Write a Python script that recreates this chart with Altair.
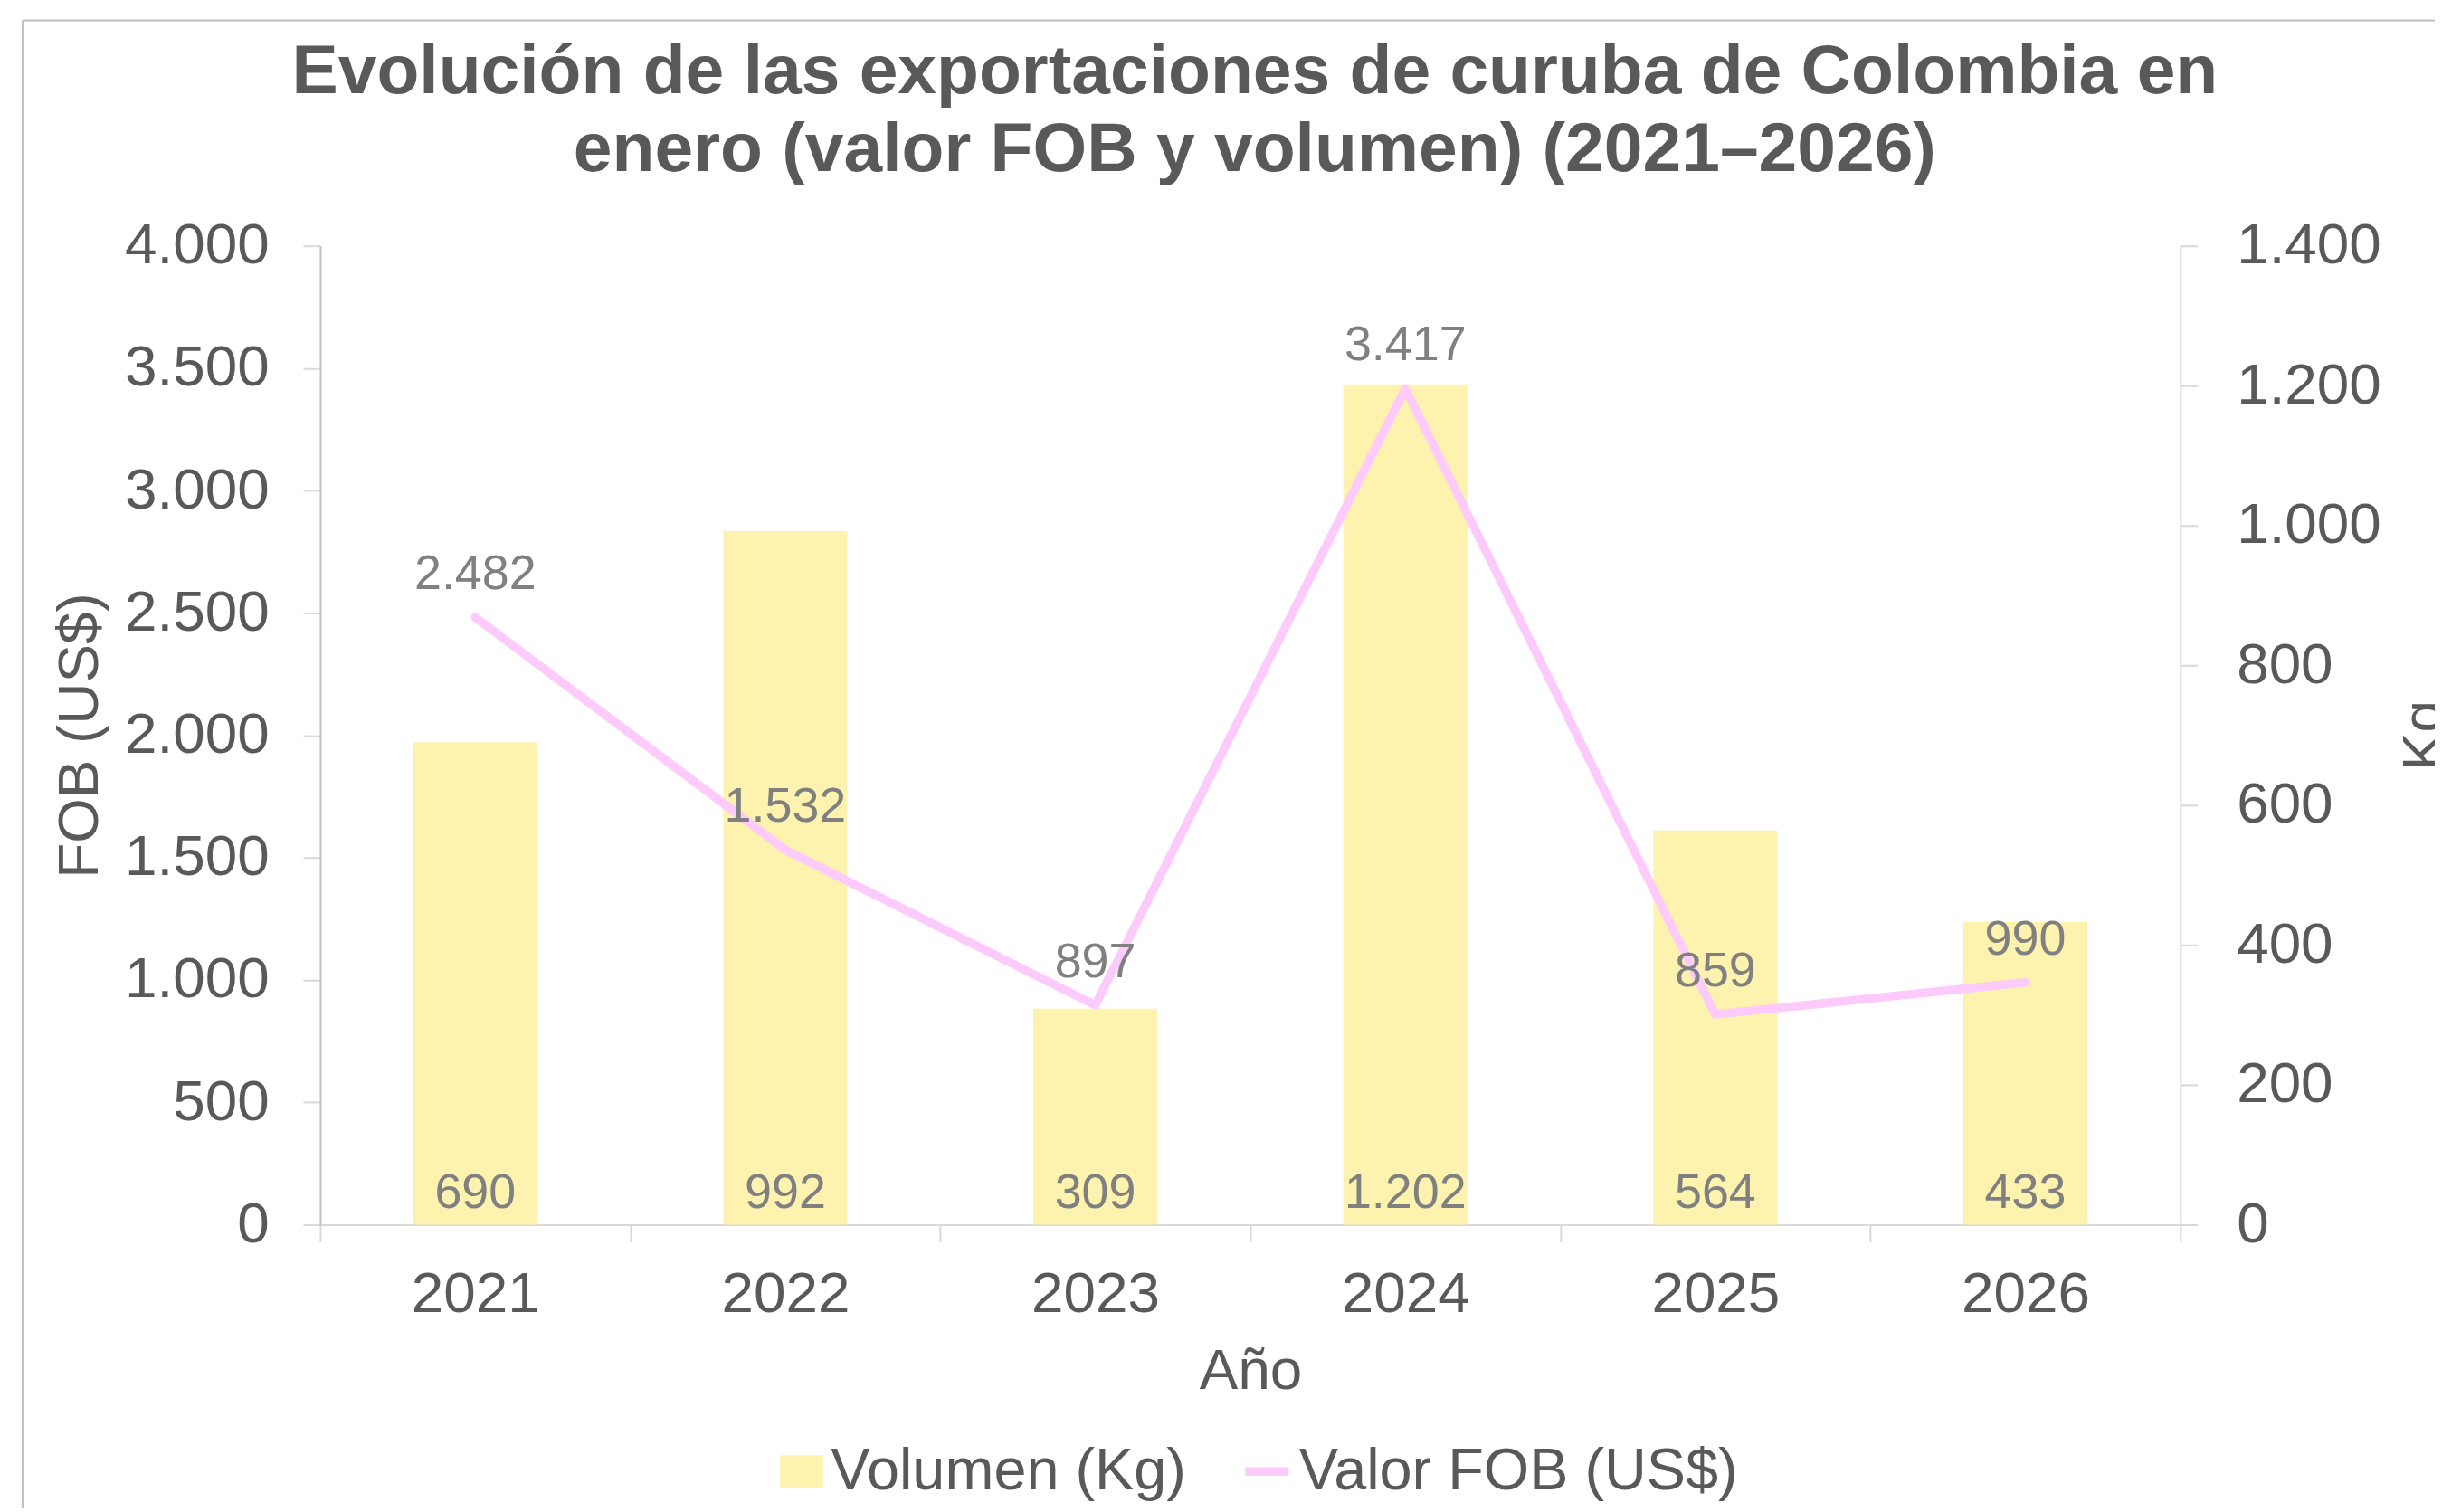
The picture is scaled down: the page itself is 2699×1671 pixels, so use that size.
import altair as alt
import pandas as pd

# ---------------- data ----------------
years = ["2021", "2022", "2023", "2024", "2025", "2026"]
volumen_kg = [690, 992, 309, 1202, 564, 433]
valor_fob = [2482, 1532, 897, 3417, 859, 990]
fob_ticks = [0, 500, 1000, 1500, 2000, 2500, 3000, 3500, 4000]
kg_ticks = [0, 200, 400, 600, 800, 1000, 1200, 1400]
serie_vol = "Volumen (Kg)"
serie_fob = "Valor FOB (US$)"
title_lines = [
    "Evolución de las exportaciones de curuba de Colombia en",
    "enero (valor FOB y volumen) (2021–2026)",
]

df = pd.DataFrame({"year": years, "kg": volumen_kg, "fob": valor_fob})

# ---------------- style ----------------
FONT = "Liberation Sans"
YELLOW = "#FDF2AE"
PINK = "#FDCBFB"
TXT = "#595959"
LBL = "#808080"
AX_DARK = "#BFBFBF"
AX_LIGHT = "#D9D9D9"
W, H = 2062, 1085
FS = 64
DFS = 54
FMT = "replace(format(datum.value, ',d'), ',', '.')"

leg_common = dict(
    orient="none", direction="horizontal", title=None,
    labelFont=FONT, labelFontSize=65, labelColor=TXT,
    labelLimit=0, symbolSize=2304, padding=0,
)
legend_vol = alt.Legend(
    legendX=501, legendY=1326, symbolType="M-1,-0.75H1V0.75H-1Z", labelOffset=0,
    symbolStrokeWidth=0, symbolOpacity=1, **leg_common,
)
legend_fob = alt.Legend(
    legendX=1017, legendY=1326, symbolType="stroke", labelOffset=3,
    symbolStrokeWidth=9.5, symbolOpacity=1, **leg_common,
)

x_enc = alt.X(
    "year:N", sort=years,
    scale=alt.Scale(paddingInner=0, paddingOuter=0),
    axis=alt.Axis(
        title="Año", labelAngle=0, tickBand="extent", tickSize=19,
        tickColor=AX_LIGHT, tickWidth=2, domainColor=AX_LIGHT, domainWidth=2,
        labelFont=FONT, labelFontSize=FS, labelColor=TXT, labelPadding=26,
        titleFont=FONT, titleFontSize=FS, titleColor=TXT, titleFontWeight="normal",
        titleX=W / 2, titleY=182, titleBaseline="alphabetic", grid=False,
    ),
)

base = alt.Chart(df).transform_calculate(
    kg_lbl="replace(format(datum.kg, ',d'), ',', '.')",
    fob_lbl="replace(format(datum.fob, ',d'), ',', '.')",
)

bars = base.transform_calculate(serie=f"'{serie_vol}'").mark_bar(
    width=alt.RelativeBandSize(0.4)
).encode(
    x=x_enc,
    y=alt.Y("kg:Q", scale=alt.Scale(domain=[0, 1400], nice=False),
            axis=alt.Axis(
                orient="right", values=kg_ticks, labelExpr=FMT, grid=False,
                tickSize=19, tickColor=AX_LIGHT, tickWidth=2,
                domainColor=AX_LIGHT, domainWidth=2,
                labelFont=FONT, labelFontSize=FS, labelColor=TXT, labelPadding=43,
                title="Kg", titleFont=FONT, titleFontSize=FS, titleColor=TXT,
                titleFontWeight="normal", titleAngle=270, titleX=290, titleY=H / 2,
                titleBaseline="alphabetic", titleAlign="center",
            )),
    fill=alt.Fill("serie:N", scale=alt.Scale(domain=[serie_vol], range=[YELLOW]),
                  legend=legend_vol),
)

line = base.transform_calculate(serie=f"'{serie_fob}'").mark_line(
    strokeWidth=9.5, strokeCap="round", strokeJoin="round"
).encode(
    x=x_enc,
    y=alt.Y("fob:Q", scale=alt.Scale(domain=[0, 4000], nice=False),
            axis=alt.Axis(
                orient="left", values=fob_ticks, labelExpr=FMT, grid=False,
                tickSize=19, tickColor=AX_LIGHT, tickWidth=2,
                domainColor=AX_DARK, domainWidth=2,
                labelFont=FONT, labelFontSize=FS, labelColor=TXT, labelPadding=38,
                title="FOB (US$)", titleFont=FONT, titleFontSize=FS, titleColor=TXT,
                titleFontWeight="normal", titleAngle=270, titleX=-247, titleY=H / 2,
                titleBaseline="alphabetic", titleAlign="center",
            )),
    stroke=alt.Stroke("serie:N", scale=alt.Scale(domain=[serie_fob], range=[PINK]),
                      legend=legend_fob),
)

bar_text = base.mark_text(
    font=FONT, fontSize=DFS, color=LBL, baseline="alphabetic", dy=-19
).encode(
    x=x_enc,
    y=alt.YDatum(0, type="quantitative", scale=alt.Scale(domain=[0, 1400], nice=False), axis=None),
    text="kg_lbl:N",
)

line_text = base.mark_text(
    font=FONT, fontSize=DFS, color=LBL, baseline="alphabetic", dy=-31
).encode(
    x=x_enc,
    y=alt.Y("fob:Q", scale=alt.Scale(domain=[0, 4000], nice=False), axis=None),
    text="fob_lbl:N",
)

one = pd.DataFrame({"k": [0]})
border_top = alt.Chart(one).mark_rule(color=AX_DARK, strokeWidth=2).encode(
    x=alt.value(-330), x2=alt.value(2500), y=alt.value(-250)
)
border_left = alt.Chart(one).mark_rule(color=AX_DARK, strokeWidth=2).encode(
    x=alt.value(-330), y=alt.value(-250), y2=alt.value(1500)
)

chart = alt.layer(
    bars, line, bar_text, line_text, border_top, border_left
).resolve_scale(y="independent").properties(
    width=W, height=H,
    autosize=alt.AutoSizeParams(type="none"),
    padding={"left": 347, "top": 262, "right": 282, "bottom": 312},
    background="white",
    title=alt.TitleParams(
        text=title_lines, font=FONT, fontSize=77, fontWeight="bold", color=TXT,
        anchor="middle", lineHeight=86, offset=-184, dx=5,
    ),
).configure_view(stroke=None)

chart.save("out.html", embed_options={"renderer": "svg", "actions": False})
